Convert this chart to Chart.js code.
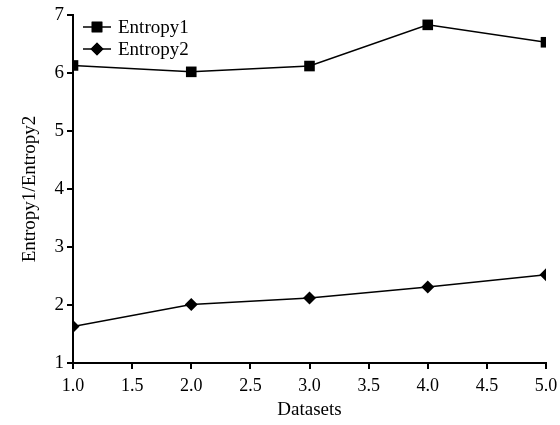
<!DOCTYPE html>
<html>
<head>
<meta charset="utf-8">
<script src="https://cdn.jsdelivr.net/npm/chart.js@4.4.0/dist/chart.umd.min.js"></script>
<style>
  html, body { margin: 0; padding: 0; background: #fff; }
  #wrap { width: 560px; height: 425px; }
</style>
</head>
<body>
<div id="wrap"><canvas id="entropyChart" width="560" height="425"></canvas></div>
<script>
// data
const datasetsX = [1, 2, 3, 4, 5];
const entropy1 = [6.13, 6.02, 6.12, 6.83, 6.53];
const entropy2 = [1.63, 2.01, 2.12, 2.31, 2.52];
const seriesLabels = ['Entropy1', 'Entropy2'];

const FONT = '"Liberation Serif", "Times New Roman", serif';

// legend: short line with the marker in the middle, like the original
const lineLegend = {
    id: 'lineLegend',
    afterDraw(chart) {
        const c = chart.ctx;
        const area = chart.chartArea;
        c.save();
        chart.data.datasets.forEach((ds, i) => {
            const y = area.top + 12 + i * 22;
            const x0 = area.left + 10;
            c.strokeStyle = '#000';
            c.lineWidth = 1.5;
            c.beginPath();
            c.moveTo(x0, y);
            c.lineTo(x0 + 28, y);
            c.stroke();
            Chart.helpers.drawPoint(c, {
                pointStyle: ds.pointStyle,
                radius: ds.pointRadius,
                rotation: 0,
                borderWidth: 0
            }, x0 + 14, y);
            c.fillStyle = '#000';
            c.fill();
            c.font = '19px ' + FONT;
            c.textBaseline = 'middle';
            c.fillText(ds.label, x0 + 35, y + 1);
        });
        c.restore();
    }
};

const toXY = (arr) => arr.map((v, i) => ({ x: datasetsX[i], y: v }));

new Chart(document.getElementById('entropyChart').getContext('2d'), {
    type: 'line',
    data: {
        datasets: [{
            label: seriesLabels[0],
            data: toXY(entropy1),
            borderColor: '#000',
            backgroundColor: '#000',
            borderWidth: 1.5,
            pointStyle: 'rect',
            pointRadius: 7.5,
            pointBorderWidth: 0,
            tension: 0
        }, {
            label: seriesLabels[1],
            data: toXY(entropy2),
            borderColor: '#000',
            backgroundColor: '#000',
            borderWidth: 1.5,
            pointStyle: 'rectRot',
            pointRadius: 6.5,
            pointBorderWidth: 0,
            tension: 0
        }]
    },
    options: {
        responsive: false,
        animation: false,
        layout: { padding: { top: 15, right: 14, left: 0, bottom: 0 } },
        plugins: {
            legend: { display: false },
            tooltip: { enabled: false }
        },
        scales: {
            x: {
                type: 'linear',
                min: 1,
                max: 5,
                ticks: {
                    stepSize: 0.5,
                    color: '#000',
                    font: { family: FONT, size: 18 },
                    padding: 6,
                    callback: (v) => v.toFixed(1)
                },
                grid: { drawOnChartArea: false, drawTicks: true, tickLength: 6, color: '#000', lineWidth: 2 },
                border: { display: true, color: '#000', width: 2 },
                title: { display: true, text: 'Datasets', color: '#000', font: { family: FONT, size: 19 }, padding: { top: 4 } },
                afterFit(scale) {
                    scale.height = 62;
                    scale.paddingRight = 0;
                    scale.paddingLeft = 0;
                }
            },
            y: {
                min: 1,
                max: 7,
                ticks: {
                    stepSize: 1,
                    color: '#000',
                    font: { family: FONT, size: 19 },
                    padding: 3
                },
                grid: { drawOnChartArea: false, drawTicks: true, tickLength: 6, color: '#000', lineWidth: 2 },
                border: { display: true, color: '#000', width: 2 },
                title: { display: true, text: 'Entropy1/Entropy2', color: '#000', font: { family: FONT, size: 19 }, padding: { top: 19, bottom: 4 } },
                afterFit(scale) { scale.width = 73; }
            }
        }
    },
    plugins: [lineLegend]
});
</script>
</body>
</html>
